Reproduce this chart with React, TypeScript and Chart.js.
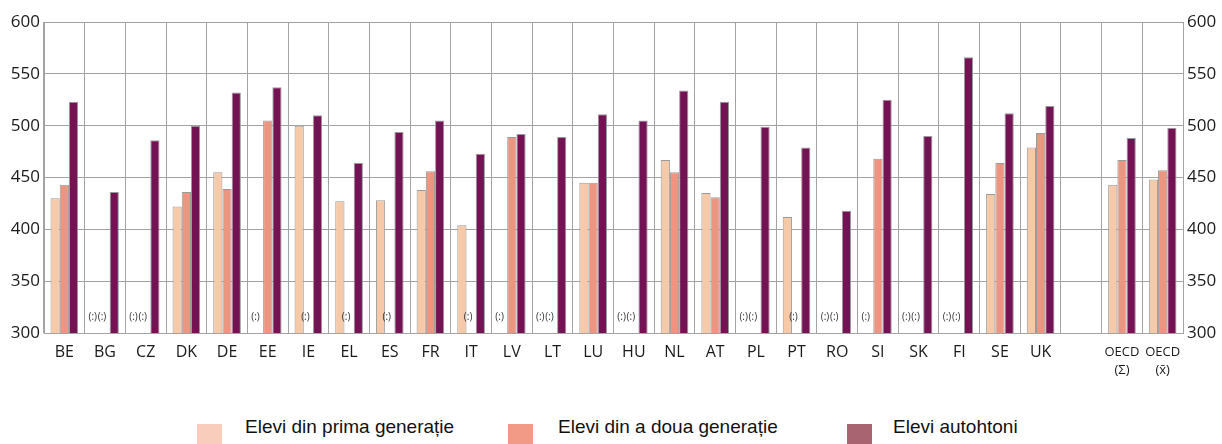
import React, { useEffect, useRef } from "react";
import { Chart, registerables } from "chart.js";

Chart.register(...registerables);

const categories: (string | string[])[] = [
  "BE", "BG", "CZ", "DK", "DE", "EE", "IE", "EL", "ES", "FR", "IT", "LV", "LT", "LU",
  "HU", "NL", "AT", "PL", "PT", "RO", "SI", "SK", "FI", "SE", "UK", "",
  ["OECD", "(Σ)"], ["OECD", "(x̄)"],
];

const firstGen: (number | null)[] = [
  430, null, null, 422, 455, null, 500, 427, 428, 438, 404, null, null, 445,
  null, 467, 435, null, 412, null, null, null, null, 434, 479, null, 443, 448,
];
const secondGen: (number | null)[] = [
  443, null, null, 436, 439, 505, null, null, null, 456, null, 489, null, 445,
  null, 455, 431, null, null, null, 468, null, null, 464, 493, null, 467, 457,
];
const native: (number | null)[] = [
  523, 436, 486, 500, 532, 537, 510, 464, 494, 505, 473, 492, 489, 511,
  505, 534, 523, 499, 479, 418, 525, 490, 566, 512, 519, null, 488, 498,
];

const seriesNames = ["Elevi din prima generație", "Elevi din a doua generație", "Elevi autohtoni"];
const barColors = ["#F6C9A8", "#EC9581", "#741354"];
const legendColors = ["#F9CDBB", "#F29A86", "#A96472"];
const missingMark = "(:)";

const CAT_PCT = 0.68;
const GRID = "#a3a3a3";

const missingPlugin = {
  id: "missingMarks",
  afterDatasetsDraw(chart: any) {
    const { ctx } = chart;
    const xScale = chart.scales.x;
    const yScale = chart.scales.y;
    const catW = xScale.getPixelForValue(1) - xScale.getPixelForValue(0);
    const barW = (catW * CAT_PCT) / 3;
    ctx.save();
    ctx.font = "10px 'Open Sans'";
    ctx.fillStyle = "#333";
    ctx.textAlign = "center";
    ctx.textBaseline = "middle";
    categories.forEach((cat, i) => {
      if (cat === "") return;
      chart.data.datasets.forEach((ds: any, d: number) => {
        if (ds.data[i] === null) {
          const x = xScale.getPixelForValue(i) + (d - 1) * barW - 3;
          const y = yScale.getPixelForValue(315);
          ctx.fillText(missingMark, x, y);
        }
      });
    });
    ctx.restore();
  },
};

export default function App() {
  const ref = useRef<HTMLCanvasElement | null>(null);

  useEffect(() => {
    if (!ref.current) return;
    const data = [firstGen, secondGen, native];
    const chart = new Chart(ref.current, {
      type: "bar",
      data: {
        labels: categories,
        datasets: data.map((vals, k) => ({
          label: seriesNames[k],
          data: vals,
          backgroundColor: barColors[k],
          borderColor: "#9a9a9a",
          borderWidth: 1,
          categoryPercentage: CAT_PCT,
          barPercentage: 1,
          yAxisID: "y",
        })),
      },
      options: {
        animation: false,
        responsive: false,
        layout: { padding: { top: 22, bottom: 0, left: 0, right: 0 } },
        plugins: { legend: { display: false }, tooltip: { enabled: false } },
        scales: {
          x: {
            offset: true,
            grid: { display: true, offset: true, color: GRID, drawTicks: false },
            border: { color: GRID },
            ticks: {
              color: "#1a1a1a",
              padding: 10,
              autoSkip: false,
              maxRotation: 0,
              font: (c: any) =>
                c.index >= 26
                  ? { family: "'Open Sans'", size: 13, lineHeight: 1.4 }
                  : { family: "'Open Sans'", size: 16, lineHeight: 1.2 },
            },
            afterFit: (s: any) => {
              s.height = 67;
            },
          },
          y: {
            position: "left",
            min: 300,
            max: 600,
            grid: { color: GRID, drawTicks: false },
            border: { color: GRID },
            ticks: { stepSize: 50, padding: 4, color: "#1a1a1a", font: { family: "'Open Sans'", size: 17 } },
            afterFit: (s: any) => {
              s.width = 44;
            },
          },
          y2: {
            position: "right",
            min: 300,
            max: 600,
            grid: { display: false, drawTicks: false },
            border: { color: GRID },
            ticks: { stepSize: 50, padding: 4, color: "#1a1a1a", font: { family: "'Open Sans'", size: 17 } },
            afterFit: (s: any) => {
              s.width = 39;
            },
          },
        },
      },
      plugins: [missingPlugin],
    });
    return () => chart.destroy();
  }, []);

  const legendLeft = [197, 508, 847];
  const textLeft = [245, 558, 893];

  return (
    <div style={{ position: "absolute", left: 0, top: 0, width: 1222, height: 444, background: "#fff", overflow: "hidden" }}>
      <canvas ref={ref} width={1222} height={400} style={{ position: "absolute", left: 0, top: 0, width: 1222, height: 400 }} />
      {seriesNames.map((n, k) => (
        <React.Fragment key={n}>
          <div
            style={{
              position: "absolute",
              left: legendLeft[k],
              top: 424,
              width: 25,
              height: 21,
              background: legendColors[k],
            }}
          />
          <div
            style={{
              position: "absolute",
              left: textLeft[k],
              top: 417,
              fontFamily: "'Liberation Sans', Arial, sans-serif",
              fontSize: 19,
              lineHeight: "19px",
              color: "#111",
              whiteSpace: "nowrap",
            }}
          >
            {n}
          </div>
        </React.Fragment>
      ))}
    </div>
  );
}
